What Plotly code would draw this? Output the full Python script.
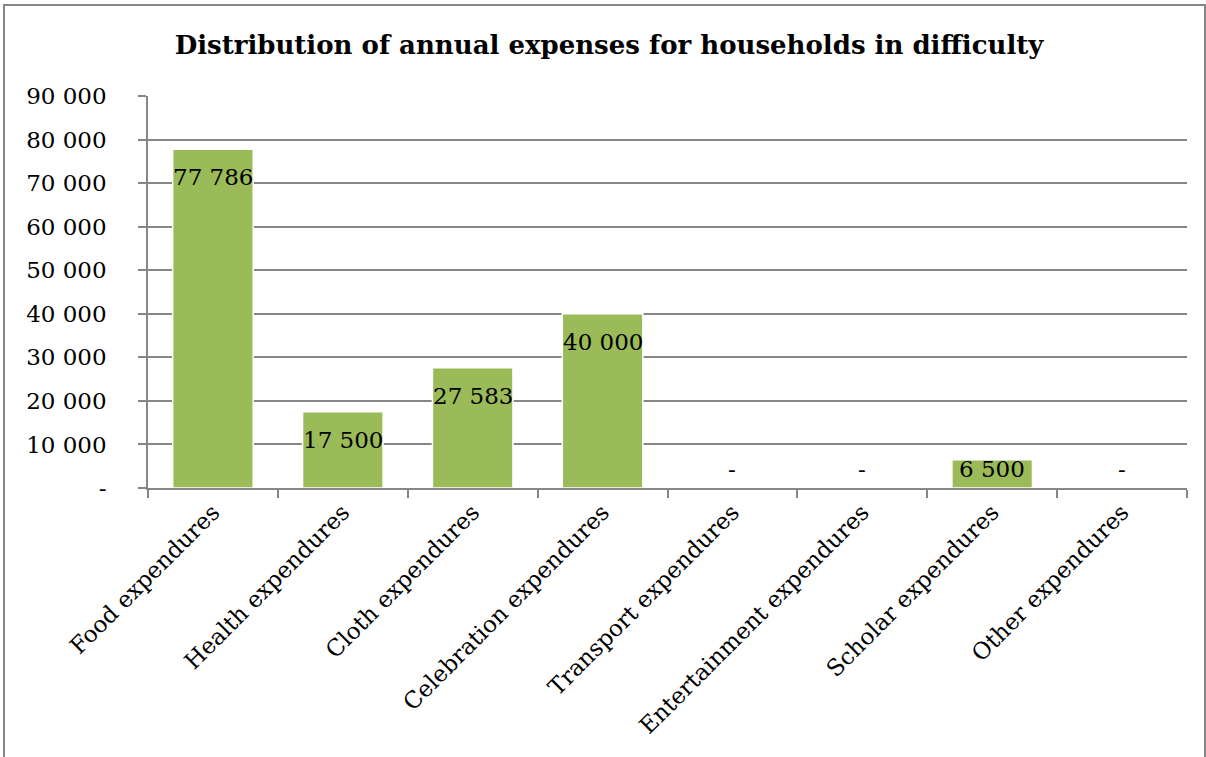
import plotly.graph_objects as go

# Annual expense categories and amounts
categories = [
    "Food expendures",
    "Health expendures",
    "Cloth expendures",
    "Celebration expendures",
    "Transport expendures",
    "Entertainment expendures",
    "Scholar expendures",
    "Other expendures",
]
amounts = [77786, 17500, 27583, 40000, 0, 0, 6500, 0]
tick_values = [0, 10000, 20000, 30000, 40000, 50000, 60000, 70000, 80000, 90000]
tick_labels = ["-", "10 000", "20 000", "30 000", "40 000", "50 000",
               "60 000", "70 000", "80 000", "90 000"]

FONT = "DejaVu Serif"
W, H = 1206, 757
M_L, M_R, M_T, M_B = 148, 19, 96, 269
plot_h = H - M_T - M_B
y_max = 90000
px_per_unit = plot_h / y_max


def fmt(v):
    return "-" if v == 0 else f"{v:,}".replace(",", " ")


fig = go.Figure()
fig.add_trace(go.Bar(
    x=categories,
    y=amounts,
    marker=dict(color="#9BBB59", line=dict(color="#FFFFFF", width=1.5)),
    width=0.62,
    hoverinfo="x+y",
))

# Value labels placed just inside the top of each bar, kept above the axis
annotations = []
for cat, v in zip(categories, amounts):
    y_lab = max(v - 28 / px_per_unit, 19 / px_per_unit)
    annotations.append(dict(
        x=cat, y=y_lab, xref="x", yref="y", text=fmt(v), showarrow=False,
        font=dict(family=FONT, size=23, color="#000000"),
        xanchor="center", yanchor="middle",
    ))

fig.update_layout(
    width=W, height=H,
    margin=dict(l=M_L, r=M_R, t=M_T, b=M_B, autoexpand=False),
    paper_bgcolor="#FFFFFF",
    plot_bgcolor="#FFFFFF",
    showlegend=False,
    title=dict(
        text="<b>Distribution of annual expenses for households in difficulty</b>",
        x=0.505, xanchor="center", y=1 - 45 / H, yanchor="middle",
        font=dict(family=FONT, size=26, color="#000000"),
    ),
    annotations=annotations,
    xaxis=dict(
        type="category",
        range=[-0.5, len(categories) - 0.5],
        showgrid=False,
        showline=True, linecolor="#868686", linewidth=1.5,
        ticks="outside", ticklen=8, tickcolor="#868686", tickwidth=1.5,
        tickson="boundaries",
        tickangle=-45,
        tickfont=dict(family=FONT, size=23, color="#000000"),
        fixedrange=True,
    ),
    yaxis=dict(
        range=[0, y_max],
        tickvals=tick_values, ticktext=tick_labels,
        showgrid=True, gridcolor="#868686", gridwidth=1.5,
        showline=True, linecolor="#868686", linewidth=1.5,
        ticks="outside", ticklen=8, tickcolor="#868686", tickwidth=1.5,
        ticklabelstandoff=27,
        tickfont=dict(family=FONT, size=23, color="#000000"),
        zeroline=False,
        fixedrange=True,
    ),
    shapes=[dict(
        type="rect", xref="paper", yref="paper",
        x0=(4 - M_L) / (W - M_L - M_R), x1=(1205 - M_L) / (W - M_L - M_R),
        y0=(-(M_B + 10)) / plot_h, y1=1 + (M_T - 5) / plot_h,
        line=dict(color="#868686", width=2), fillcolor="rgba(0,0,0,0)",
        layer="below",
    )],
)

fig.write_html("out.html")
